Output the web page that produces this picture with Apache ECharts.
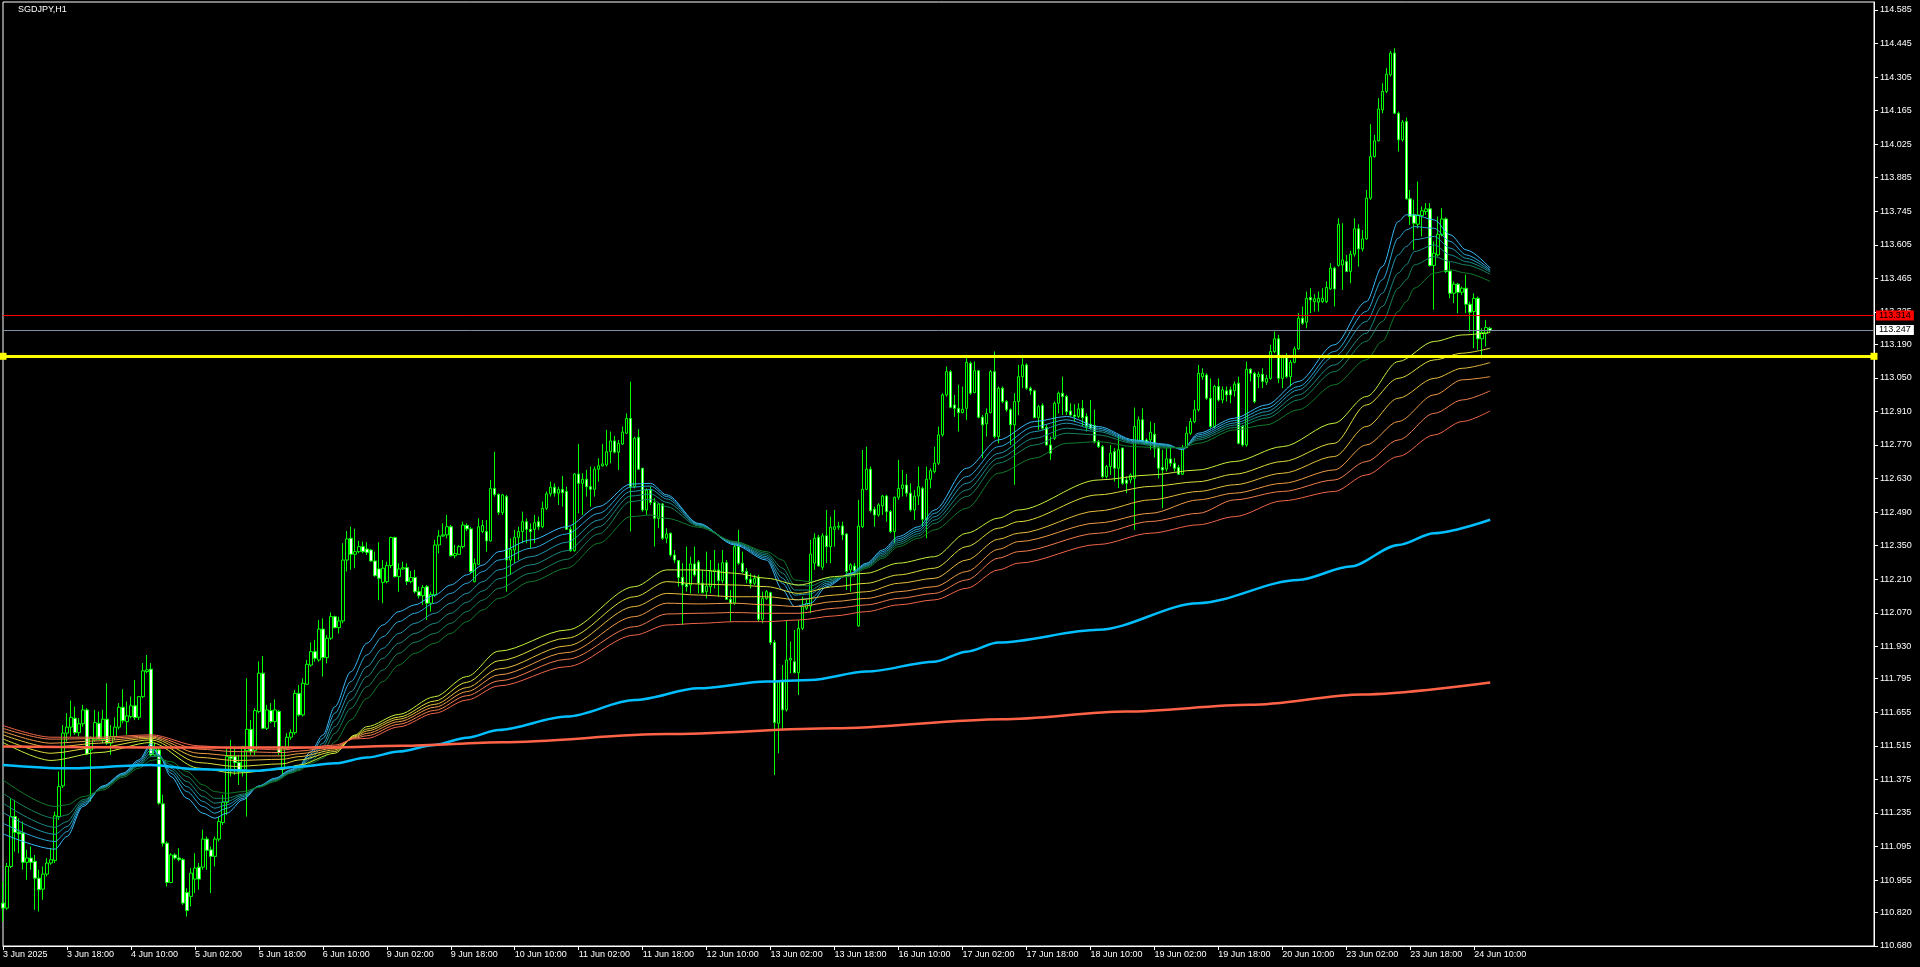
<!DOCTYPE html>
<html><head><meta charset="utf-8">
<script src="https://cdn.jsdelivr.net/npm/echarts@6/dist/echarts.min.js"></script>
<style>html,body{margin:0;padding:0;background:#000;overflow:hidden}#c{width:1920px;height:967px}</style>
</head><body><div id="c"></div>
<script>
const chartTitle = 'SGDJPY,H1';
const xTickLabels = ['3 Jun 2025','3 Jun 18:00','4 Jun 10:00','5 Jun 02:00','5 Jun 18:00','6 Jun 10:00','9 Jun 02:00','9 Jun 18:00','10 Jun 10:00','11 Jun 02:00','11 Jun 18:00','12 Jun 10:00','13 Jun 02:00','13 Jun 18:00','16 Jun 10:00','17 Jun 02:00','17 Jun 18:00','18 Jun 10:00','19 Jun 02:00','19 Jun 18:00','20 Jun 10:00','23 Jun 02:00','23 Jun 18:00','24 Jun 10:00'];
const hoursPerTimeLabel = 16;
const barSlots = 469;
const yTickLabels = ['114.585','114.445','114.305','114.165','114.025','113.885','113.745','113.605','113.465','113.325','113.190','113.050','112.910','112.770','112.630','112.490','112.350','112.210','112.070','111.930','111.795','111.655','111.515','111.375','111.235','111.095','110.955','110.820','110.680'];
const priceMin = 110.680, priceMax = 114.618;
const askLevel = 113.314, bidLevel = 113.247, yellowLevel = 113.140;

// [open, close, low, high] per H1 bar
const ohlc = [
[110.859,110.838,110.782,110.949],[110.838,111.012,110.831,111.026],[111.012,111.220,111.005,111.297],[111.220,111.154,111.074,111.290],[111.154,111.148,111.067,111.213],
[111.151,111.029,110.998,111.199],[111.029,111.047,110.956,111.081],[111.047,111.029,110.998,111.095],[111.033,110.963,110.831,111.060],[110.963,110.915,110.824,110.998],
[110.917,110.980,110.873,111.012],[110.980,111.026,110.970,111.047],[111.026,111.040,111.019,111.088],[111.037,111.223,111.026,111.241],[111.220,111.345,111.206,111.408],
[111.348,111.568,111.339,111.602],[111.568,111.593,111.533,111.651],[111.593,111.634,111.554,111.704],[111.630,111.570,111.561,111.679],[111.570,111.607,111.554,111.630],
[111.607,111.665,111.595,111.686],[111.665,111.481,111.477,111.672],[111.498,111.547,111.283,111.554],[111.540,111.612,111.533,111.665],[111.609,111.543,111.540,111.658],
[111.540,111.626,111.526,111.665],[111.626,111.526,111.519,111.776],[111.526,111.554,111.477,111.602],[111.554,111.593,111.540,111.634],[111.593,111.676,111.584,111.693],
[111.676,111.620,111.609,111.751],[111.616,111.640,111.561,111.700],[111.637,111.682,111.630,111.720],[111.682,111.633,111.623,111.790],[111.634,111.720,111.623,111.723],
[111.720,111.828,111.714,111.860],[111.825,111.832,111.818,111.894],[111.835,111.477,111.470,111.860],[111.477,111.505,111.470,111.526],[111.498,111.276,111.269,111.505],
[111.273,111.109,111.095,111.311],[111.109,110.945,110.928,111.116],[110.945,111.060,110.942,111.067],[111.060,111.047,111.040,111.067],[111.047,111.040,111.033,111.088],
[111.040,110.859,110.852,111.047],[110.903,110.828,110.803,110.921],[110.887,110.984,110.845,111.005],[110.959,111.005,110.901,111.067],[111.009,110.959,110.915,111.026],
[111.009,111.126,110.998,111.165],[111.126,111.079,110.998,111.137],[111.081,111.054,110.901,111.095],[111.054,111.126,111.012,111.137],[111.126,111.199,111.116,111.220],
[111.195,111.279,111.185,111.311],[111.279,111.470,111.227,111.505],[111.470,111.463,111.387,111.540],[111.470,111.445,111.394,111.512],[111.445,111.408,111.352,111.477],
[111.408,111.512,111.387,111.515],[111.495,111.584,111.220,111.797],[111.584,111.491,111.477,111.623],[111.495,111.662,111.477,111.672],[111.658,111.818,111.651,111.867],
[111.818,111.588,111.584,111.890],[111.588,111.665,111.581,111.686],[111.662,111.616,111.609,111.693],[111.616,111.665,111.593,111.709],[111.658,111.487,111.477,111.665],
[111.422,111.505,111.387,111.515],[111.505,111.551,111.498,111.568],[111.551,111.570,111.540,111.584],[111.570,111.734,111.561,111.748],[111.734,111.644,111.637,111.769],
[111.644,111.776,111.637,111.797],[111.772,111.855,111.769,111.873],[111.852,111.908,111.845,111.947],[111.908,111.880,111.866,111.957],[111.873,112.002,111.866,112.040],
[112.002,111.883,111.804,112.047],[111.883,111.964,111.859,111.977],[111.964,112.054,111.957,112.072],[112.054,112.008,112.005,112.058],[112.008,112.036,111.984,112.054],
[112.036,112.290,112.026,112.360],[112.290,112.378,112.242,112.411],[112.381,112.314,112.249,112.429],[112.314,112.325,112.256,112.420],[112.325,112.346,112.318,112.370],
[112.346,112.325,112.318,112.367],[112.336,112.322,112.311,112.364],[112.332,112.286,112.283,112.336],[112.286,112.225,112.221,112.325],[112.253,112.214,112.123,112.364],
[112.197,112.256,112.110,112.290],[112.200,112.267,112.193,112.283],[112.267,112.384,112.256,112.388],[112.384,112.221,112.217,112.388],[112.221,112.253,112.158,112.276],
[112.253,112.258,112.249,112.283],[112.258,112.200,112.186,112.276],[112.200,112.217,112.193,112.244],[112.217,112.158,112.151,112.249],[112.158,112.141,112.130,112.179],
[112.141,112.175,112.103,112.186],[112.179,112.110,112.040,112.186],[112.110,112.147,112.075,112.158],[112.144,112.353,112.137,112.374],[112.353,112.390,112.318,112.415],
[112.390,112.395,112.388,112.443],[112.395,112.429,112.381,112.478],[112.429,112.308,112.304,112.436],[112.308,112.317,112.297,112.353],[112.314,112.346,112.311,112.353],
[112.346,112.436,112.339,112.450],[112.434,112.420,112.411,112.443],[112.420,112.242,112.235,112.429],[112.200,112.276,112.197,112.297],[112.272,112.429,112.269,112.464],
[112.409,112.434,112.402,112.457],[112.409,112.370,112.325,112.457],[112.370,112.589,112.367,112.624],[112.589,112.564,112.555,112.742],[112.564,112.489,112.478,112.568],
[112.488,112.562,112.478,112.566],[112.555,112.290,112.158,112.562],[112.290,112.335,112.228,112.381],[112.332,112.385,112.277,112.416],[112.385,112.409,112.290,112.429],
[112.409,112.450,112.360,112.492],[112.450,112.418,112.360,112.464],[112.418,112.409,112.339,112.443],[112.418,112.446,112.360,112.478],[112.450,112.429,112.416,112.471],
[112.429,112.506,112.423,112.534],[112.506,112.566,112.499,112.576],[112.566,112.594,112.555,112.617],[112.594,112.569,112.555,112.610],[112.569,112.585,112.520,112.596],
[112.585,112.571,112.513,112.641],[112.576,112.418,112.416,112.596],[112.418,112.329,112.325,112.429],[112.329,112.649,112.325,112.652],[112.649,112.610,112.485,112.774],
[112.610,112.627,112.478,112.652],[112.627,112.596,112.555,112.666],[112.596,112.585,112.513,112.680],[112.585,112.669,112.555,112.680],[112.669,112.683,112.617,112.715],
[112.683,112.691,112.680,112.774],[112.687,112.742,112.680,112.833],[112.742,112.787,112.694,112.826],[112.787,112.740,112.735,112.808],[112.740,112.777,112.666,112.791],
[112.774,112.824,112.770,112.847],[112.819,112.881,112.816,112.902],[112.881,112.596,112.409,113.034],[112.596,112.798,112.589,112.805],[112.802,112.669,112.666,112.836],
[112.673,112.499,112.492,112.673],[112.499,112.582,112.478,112.589],[112.582,112.530,112.520,112.596],[112.530,112.464,112.346,112.548],[112.464,112.524,112.423,112.527],
[112.524,112.381,112.374,112.527],[112.381,112.399,112.360,112.423],[112.402,112.311,112.304,112.404],[112.311,112.290,112.277,112.332],[112.288,112.218,112.179,112.290],
[112.218,112.186,112.019,112.277],[112.190,112.179,112.158,112.346],[112.186,112.274,112.151,112.304],[112.274,112.228,112.221,112.346],[112.282,112.193,112.151,112.290],
[112.193,112.154,112.151,112.249],[112.158,112.182,112.130,112.325],[112.179,112.246,112.151,112.290],[112.242,112.249,112.172,112.332],[112.249,112.204,112.137,112.277],
[112.204,112.279,112.193,112.332],[112.279,112.126,112.124,112.290],[112.126,112.110,112.033,112.165],[112.110,112.346,112.103,112.360],[112.346,112.277,112.270,112.416],
[112.277,112.242,112.235,112.325],[112.242,112.210,112.193,112.256],[112.210,112.193,112.172,112.235],[112.193,112.214,112.186,112.228],[112.218,112.043,112.033,112.228],
[112.043,112.130,112.026,112.158],[112.130,112.158,112.124,112.165],[112.154,111.946,111.936,112.158],[111.946,111.612,111.393,111.957],[111.609,111.783,111.484,111.790],
[111.783,111.665,111.581,111.852],[111.665,111.873,111.658,112.040],[111.873,111.880,111.818,111.950],[111.866,111.820,111.818,111.998],[111.820,112.005,111.727,112.040],
[112.005,112.096,111.998,112.137],[112.089,112.108,112.082,112.124],[112.098,112.315,112.068,112.374],[112.277,112.381,112.249,112.402],[112.385,112.265,112.263,112.395],
[112.260,112.391,112.249,112.402],[112.391,112.346,112.277,112.499],[112.346,112.427,112.277,112.471],[112.418,112.429,112.346,112.499],[112.427,112.432,112.416,112.450],
[112.432,112.395,112.374,112.450],[112.399,112.242,112.165,112.402],[112.249,112.270,112.158,112.277],[112.265,112.246,112.221,112.277],[112.015,112.432,112.012,112.541],
[112.429,112.585,112.423,112.749],[112.585,112.669,112.582,112.763],[112.669,112.496,112.488,112.680],[112.502,112.478,112.429,112.513],[112.478,112.520,112.471,112.527],
[112.516,112.557,112.478,112.562],[112.557,112.492,112.450,112.562],[112.492,112.409,112.402,112.499],[112.409,112.552,112.360,112.555],[112.552,112.589,112.541,112.708],
[112.589,112.603,112.555,112.666],[112.603,112.569,112.555,112.649],[112.569,112.499,112.492,112.610],[112.499,112.557,112.457,112.582],[112.557,112.596,112.520,112.680],
[112.589,112.460,112.429,112.596],[112.460,112.627,112.381,112.680],[112.627,112.663,112.589,112.673],[112.659,112.694,112.652,112.763],[112.694,112.812,112.687,112.847],
[112.812,112.979,112.805,112.986],[112.979,113.076,112.972,113.097],[113.076,112.927,112.923,113.083],[112.937,112.923,112.888,112.979],[112.923,112.905,112.826,113.021],
[112.905,112.919,112.902,113.014],[112.923,113.115,112.875,113.146],[113.111,112.986,112.979,113.118],[112.989,113.080,112.986,113.118],[113.080,112.886,112.881,113.083],
[112.886,112.854,112.715,112.895],[112.858,112.902,112.805,112.923],[112.905,113.076,112.902,113.083],[113.076,112.805,112.798,113.160],[112.805,113.007,112.777,113.014],
[113.007,112.951,112.944,113.014],[112.951,112.917,112.909,112.958],[112.917,112.854,112.770,112.923],[112.854,112.951,112.604,112.986],[112.951,113.055,112.895,113.104],
[113.055,113.104,113.007,113.132],[113.104,113.007,113.000,113.111],[113.007,112.996,112.979,113.014],[112.996,112.884,112.882,113.000],[112.884,112.930,112.833,112.937],
[112.935,112.840,112.833,112.944],[112.843,112.770,112.768,112.854],[112.770,112.736,112.708,112.805],[112.798,112.944,112.791,112.951],[112.944,112.986,112.902,112.993],
[112.986,112.972,112.895,113.055],[112.972,112.909,112.895,112.979],[112.912,112.895,112.889,112.944],[112.895,112.889,112.868,112.940],[112.889,112.921,112.882,112.944],
[112.923,112.884,112.847,112.958],[112.889,112.847,112.826,112.902],[112.857,112.840,112.833,112.958],[112.851,112.782,112.777,112.917],[112.784,112.763,112.757,112.791],
[112.763,112.638,112.631,112.770],[112.638,112.680,112.631,112.687],[112.680,112.736,112.645,112.770],[112.743,112.673,112.617,112.757],[112.673,112.750,112.590,112.812],
[112.757,112.610,112.604,112.759],[112.624,112.610,112.569,112.638],[112.624,112.645,112.610,112.652],[112.631,112.847,112.416,112.926],[112.784,112.875,112.777,112.889],
[112.875,112.784,112.777,112.923],[112.791,112.777,112.770,112.798],[112.791,112.823,112.750,112.868],[112.815,112.757,112.718,112.861],[112.759,112.673,112.631,112.770],
[112.676,112.666,112.506,112.750],[112.670,112.712,112.659,112.757],[112.712,112.694,112.680,112.770],[112.694,112.673,112.659,112.715],[112.676,112.648,112.645,112.687],
[112.648,112.759,112.645,112.770],[112.759,112.819,112.757,112.847],[112.819,112.868,112.812,112.882],[112.868,112.917,112.861,112.958],[112.917,113.069,112.909,113.104],
[113.055,113.069,113.042,113.090],[113.062,112.965,112.958,113.069],[112.965,112.847,112.840,113.048],[112.847,113.014,112.840,113.021],[113.014,112.958,112.951,113.048],
[112.958,113.000,112.944,113.014],[112.996,112.979,112.951,113.014],[113.000,112.979,112.944,113.014],[112.996,113.024,112.972,113.035],[113.028,112.777,112.773,113.055],
[112.847,112.770,112.763,112.854],[112.770,113.086,112.763,113.118],[113.086,113.069,113.035,113.090],[113.069,112.951,112.944,113.076],[113.055,113.065,113.007,113.076],
[113.065,113.035,113.007,113.090],[113.032,113.048,113.021,113.062],[113.048,113.160,113.042,113.188],[113.160,113.213,113.153,113.243],[113.213,113.048,113.028,113.229],
[113.048,113.135,113.007,113.146],[113.135,113.055,113.048,113.153],[113.055,113.115,113.014,113.125],[113.115,113.171,113.111,113.181],[113.171,113.299,113.167,113.320],
[113.299,113.278,113.271,113.348],[113.282,113.382,113.257,113.410],[113.385,113.375,113.320,113.424],[113.368,113.380,113.327,113.399],[113.366,113.382,113.327,113.410],
[113.368,113.382,113.362,113.424],[113.368,113.427,113.362,113.452],[113.421,113.508,113.417,113.528],[113.508,113.421,113.348,113.514],[113.519,113.691,113.514,113.716],
[113.521,113.542,113.417,113.695],[113.535,113.494,113.491,113.563],[113.494,113.566,113.445,113.580],[113.566,113.672,113.556,113.716],[113.672,113.588,113.514,113.691],
[113.588,113.630,113.577,113.667],[113.630,113.800,113.626,113.834],[113.800,113.973,113.793,114.108],[113.973,114.039,113.969,114.064],[114.039,114.172,114.036,114.217],
[114.168,114.245,114.154,114.279],[114.245,114.317,114.238,114.342],[114.314,114.405,114.307,114.414],[114.405,114.154,114.150,114.425],[114.154,114.043,113.994,114.161],
[114.043,114.117,114.036,114.126],[114.119,113.797,113.793,114.136],[113.797,113.723,113.688,113.834],[113.730,113.695,113.584,113.793],[113.691,113.730,113.674,113.869],
[113.727,113.747,113.640,113.765],[113.744,113.755,113.730,113.779],[113.755,113.519,113.514,113.779],[113.519,113.570,113.334,113.619],[113.563,113.649,113.556,113.723],
[113.647,113.713,113.640,113.758],[113.713,113.494,113.487,113.719],[113.496,113.403,113.382,113.535],[113.403,113.441,113.362,113.452],[113.441,113.407,113.320,113.445],
[113.407,113.424,113.396,113.431],[113.424,113.357,113.320,113.480],[113.357,113.324,113.243,113.368],[113.327,113.382,113.174,113.403],[113.382,113.213,113.167,113.389],
[113.213,113.239,113.132,113.257],[113.236,113.260,113.181,113.292],[113.257,113.247,113.240,113.263]
];

// fast ribbon (sample bar index, then 6 lines)
const fastBars = [0,13,16,20,25,30,34,37,39,42,46,50,53,56,60,64,68,72,74,77,80,83,87,91,95,99,103,108,112,116,120,124,132,141,149,157,162,166,174,183,191,195,198,202,206,212,216,220,224,229,233,241,249,258,266,274,283,291,295,299,308,316,324,333,341,345,349,351,353,358,362,366,372];
const fast1 = [111.148,111.084,111.137,111.262,111.348,111.401,111.456,111.523,111.477,111.387,111.296,111.234,111.213,111.234,111.290,111.348,111.380,111.415,111.431,111.491,111.560,111.678,111.824,111.943,112.019,112.075,112.103,112.144,112.186,112.228,112.269,112.325,112.374,112.429,112.513,112.607,112.610,112.562,112.443,112.353,112.290,112.165,112.096,112.110,112.179,112.235,112.277,112.332,112.388,112.429,112.499,112.673,112.791,112.868,112.889,112.847,112.791,112.773,112.750,112.819,112.882,112.937,113.035,113.188,113.368,113.514,113.702,113.730,113.730,113.709,113.647,113.584,113.508];
const fast2 = [111.192,111.116,111.157,111.269,111.345,111.398,111.449,111.512,111.477,111.401,111.324,111.262,111.234,111.255,111.296,111.347,111.378,111.412,111.428,111.481,111.546,111.651,111.783,111.894,111.970,112.033,112.068,112.110,112.151,112.193,112.242,112.290,112.339,112.399,112.485,112.594,112.599,112.555,112.441,112.357,112.297,112.193,112.124,112.130,112.186,112.233,112.273,112.325,112.379,112.419,112.485,112.638,112.763,112.847,112.875,112.840,112.787,112.770,112.752,112.812,112.872,112.923,113.014,113.160,113.327,113.459,113.633,113.667,113.681,113.674,113.619,113.563,113.501];
const fast3 = [111.237,111.146,111.178,111.276,111.342,111.395,111.442,111.498,111.476,111.412,111.345,111.283,111.255,111.269,111.303,111.346,111.376,111.409,111.424,111.471,111.525,111.623,111.741,111.845,111.922,111.984,112.026,112.068,112.110,112.151,112.200,112.249,112.304,112.364,112.457,112.576,112.585,112.545,112.438,112.360,112.304,112.214,112.144,112.149,112.193,112.230,112.269,112.318,112.371,112.410,112.471,112.610,112.735,112.826,112.861,112.833,112.784,112.767,112.754,112.805,112.862,112.909,113.000,113.139,113.285,113.403,113.563,113.598,113.626,113.640,113.591,113.549,113.496];
const fast4 = [111.276,111.175,111.199,111.283,111.341,111.392,111.436,111.484,111.473,111.422,111.366,111.303,111.276,111.283,111.309,111.345,111.373,111.406,111.420,111.462,111.512,111.595,111.706,111.804,111.880,111.943,111.984,112.026,112.068,112.114,112.161,112.212,112.270,112.329,112.429,112.557,112.566,112.531,112.435,112.363,112.311,112.235,112.165,112.165,112.200,112.228,112.265,112.311,112.363,112.400,112.457,112.582,112.715,112.798,112.840,112.826,112.780,112.764,112.756,112.798,112.853,112.895,112.979,113.104,113.236,113.348,113.487,113.521,113.577,113.605,113.563,113.535,113.491];
const fast5 = [111.317,111.213,111.227,111.290,111.338,111.390,111.431,111.470,111.470,111.436,111.387,111.328,111.296,111.296,111.314,111.344,111.370,111.404,111.416,111.452,111.491,111.567,111.671,111.762,111.831,111.901,111.947,111.984,112.026,112.075,112.123,112.172,112.235,112.293,112.399,112.534,112.544,112.513,112.432,112.366,112.318,112.256,112.186,112.182,112.207,112.225,112.261,112.304,112.355,112.391,112.443,112.555,112.694,112.770,112.819,112.812,112.776,112.760,112.758,112.791,112.843,112.882,112.958,113.076,113.202,113.285,113.424,113.459,113.521,113.556,113.535,113.521,113.482];
const fast6 = [111.373,111.262,111.269,111.303,111.331,111.384,111.422,111.454,111.459,111.449,111.408,111.352,111.324,111.317,111.324,111.342,111.366,111.401,111.412,111.442,111.463,111.532,111.623,111.713,111.783,111.852,111.901,111.943,111.984,112.033,112.082,112.130,112.200,112.256,112.360,112.471,112.478,112.464,112.427,112.367,112.325,112.290,112.207,112.200,112.214,112.221,112.256,112.297,112.346,112.381,112.416,112.506,112.652,112.715,112.777,112.784,112.763,112.757,112.760,112.777,112.833,112.854,112.917,113.021,113.125,113.202,113.327,113.368,113.424,113.487,113.501,113.487,113.452];

// slow ribbon
const slowBars = [0,12,24,37,49,58,70,74,83,88,91,99,108,116,124,141,158,166,174,183,191,199,208,216,224,233,241,249,254,274,287,299,308,320,333,341,349,358,365,372];
const slow1 = [111.529,111.454,111.487,111.529,111.422,111.401,111.417,111.435,111.484,111.560,111.595,111.646,111.720,111.804,111.910,111.998,112.179,112.249,112.249,112.235,112.214,112.186,112.221,112.235,112.277,112.304,112.402,112.465,112.499,112.624,112.645,112.666,112.701,112.763,112.861,112.972,113.118,113.202,113.229,113.239];
const slow2 = [111.544,111.484,111.509,111.540,111.445,111.429,111.440,111.456,111.491,111.557,111.585,111.635,111.702,111.780,111.870,111.964,112.137,112.200,112.190,112.186,112.179,112.151,112.179,112.193,112.228,112.256,112.346,112.423,112.450,112.562,112.597,112.617,112.648,112.701,112.777,112.937,113.048,113.125,113.153,113.174];
const slow3 = [111.561,111.509,111.526,111.547,111.467,111.454,111.459,111.470,111.498,111.553,111.577,111.626,111.688,111.758,111.836,111.932,112.096,112.151,112.144,112.137,112.137,112.124,112.144,112.158,112.193,112.214,112.290,112.377,112.402,112.495,112.541,112.576,112.604,112.652,112.722,112.847,112.965,113.048,113.090,113.114];
const slow4 = [111.575,111.526,111.536,111.552,111.484,111.473,111.473,111.482,111.505,111.550,111.567,111.616,111.676,111.741,111.811,111.904,112.054,112.110,112.107,112.110,112.103,112.096,112.117,112.130,112.158,112.179,112.242,112.335,112.367,112.445,112.485,112.541,112.569,112.610,112.666,112.770,112.868,112.979,113.042,113.055];
const slow5 = [111.588,111.543,111.545,111.556,111.501,111.491,111.487,111.493,111.512,111.547,111.557,111.605,111.663,111.724,111.786,111.876,112.012,112.065,112.068,112.071,112.068,112.068,112.089,112.103,112.130,112.151,112.207,112.298,112.325,112.402,112.451,112.485,112.541,112.576,112.624,112.701,112.791,112.902,112.958,112.996];
const slow6 = [111.600,111.551,111.551,111.561,111.515,111.505,111.498,111.505,111.518,111.544,111.546,111.594,111.651,111.706,111.765,111.845,111.977,112.019,112.026,112.033,112.033,112.040,112.057,112.075,112.103,112.124,112.172,112.249,112.277,112.355,112.402,112.437,112.471,112.537,112.576,112.645,112.722,112.812,112.868,112.912];

// long averages
const blueBars = [0,16,37,49,63,74,83,91,99,108,116,124,141,158,174,191,202,216,233,241,249,274,299,324,337,349,358,372];
const blueMA = [111.435,111.421,111.435,111.417,111.411,111.428,111.442,111.466,111.491,111.519,111.549,111.581,111.637,111.706,111.755,111.783,111.790,111.825,111.866,111.908,111.946,111.999,112.110,112.207,112.263,112.353,112.402,112.458];
const redBars = [0,40,80,100,125,166,208,250,281,312,340,372];
const redMA = [111.512,111.508,111.508,111.515,111.530,111.564,111.588,111.626,111.658,111.686,111.729,111.779];

const FONT = 'Liberation Sans';
const fastColors = ['#38baf8','#2ca8d8','#2498b0','#1c8a86','#168060','#107a2a'];
const slowColors = ['#c6f03c','#dcdc3c','#e6bc3e','#ec9a46','#f07c4e','#f0644a'];

const cats = Array.from({length: barSlots}, (_, i) => 'b' + i);
const isLabelSlot = i => i % hoursPerTimeLabel === 0 && (i / hoursPerTimeLabel) < xTickLabels.length;
const pairs = (bars, vals) => bars.map((b, i) => [b, vals[i]]);

function lineSeries(data, color, width) {
  return {type: 'line', data, symbol: 'none', showSymbol: false, silent: true, z: 3,
    smooth: 0.3, smoothMonotone: 'x',
    lineStyle: {color, width}, animation: false};
}

const series = [];
series.push({
  type: 'candlestick', data: ohlc, barWidth: 3, z: 2, silent: true,
  itemStyle: {color: '#000000', color0: '#ffffff', borderColor: '#00ff00', borderColor0: '#00ff00', borderWidth: 1},
  markLine: {
    silent: true, symbol: ['none','none'], animation: false,
    data: [
      {yAxis: askLevel, lineStyle: {color: '#ff0000', width: 1, type: 'solid'},
       label: {show: true, position: 'end', formatter: askLevel.toFixed(3), backgroundColor: '#ff0000', color: '#000000', fontFamily: FONT, fontSize: 9, padding: [1,3,0,3], distance: 2}},
      {yAxis: bidLevel, lineStyle: {color: '#8090a0', width: 1, type: 'solid'},
       label: {show: true, position: 'end', formatter: bidLevel.toFixed(3), backgroundColor: '#ffffff', color: '#000000', fontFamily: FONT, fontSize: 9, padding: [1,3,0,3], distance: 2}}
    ]
  }
});
[fast1, fast2, fast3, fast4, fast5, fast6].forEach((v, k) => series.push(lineSeries(pairs(fastBars, v), fastColors[k], 1)));
[slow1, slow2, slow3, slow4, slow5, slow6].forEach((v, k) => series.push(lineSeries(pairs(slowBars, v), slowColors[k], 1)));
series.push(lineSeries(pairs(blueBars, blueMA), '#00bfff', 2.5));
series.push(lineSeries(pairs(redBars, redMA), '#ff6347', 2.5));
series.push({
  type: 'line', data: [], silent: true,
  markLine: {silent: true, animation: false, symbol: ['rect','rect'], symbolSize: 7,
    data: [{yAxis: yellowLevel}], lineStyle: {color: '#ffff00', width: 3, type: 'solid'}, label: {show: false}}
});

const chart = echarts.init(document.getElementById('c'), null, {renderer: 'canvas'});
chart.setOption({
  animation: false,
  backgroundColor: '#000000',
  title: {text: chartTitle, left: 18, top: 5, padding: 0, textStyle: {color: '#ffffff', fontSize: 9, fontWeight: 'normal', fontFamily: FONT}},
  grid: {left: 3, right: 46, top: 2, bottom: 21, show: true, borderColor: '#ffffff', borderWidth: 1, backgroundColor: '#000000'},
  xAxis: {
    type: 'category', data: cats, boundaryGap: false,
    axisLine: {show: true, lineStyle: {color: '#ffffff', width: 1}},
    axisTick: {show: true, length: 4, interval: (i) => isLabelSlot(i), lineStyle: {color: '#ffffff'}},
    axisLabel: {show: true, interval: (i) => isLabelSlot(i), color: '#ffffff', fontFamily: FONT, fontSize: 9, align: 'left', margin: 4,
      formatter: (v, i) => isLabelSlot(i) ? xTickLabels[i / hoursPerTimeLabel] : ''},
    splitLine: {show: false}
  },
  yAxis: {
    type: 'value', position: 'right', min: priceMin, max: priceMax, scale: true,
    axisLine: {show: true, lineStyle: {color: '#ffffff', width: 1}},
    axisTick: {show: true, length: 4, lineStyle: {color: '#ffffff'}, customValues: yTickLabels.map(Number)},
    axisLabel: {show: true, color: '#ffffff', fontFamily: FONT, fontSize: 9, margin: 6, customValues: yTickLabels.map(Number),
      formatter: (v) => v.toFixed(3)},
    splitLine: {show: false}
  },
  series
});
</script>
</body></html>
